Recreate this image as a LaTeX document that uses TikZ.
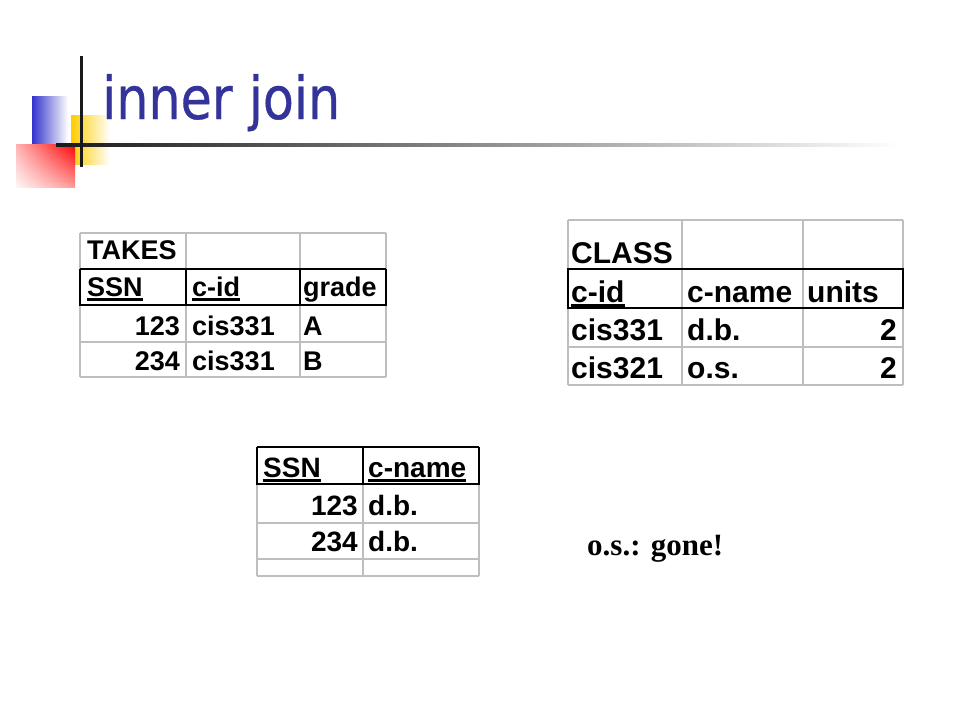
\documentclass[tikz,border=0pt]{standalone}
\usepackage{fontspec}
\setmainfont{Liberation Serif}
\setsansfont{Liberation Sans}
\newfontfamily\titlefont[FakeBold=0.6]{DejaVu Sans}
\usetikzlibrary{calc,shadings}
\definecolor{titleblue}{HTML}{333399}
\definecolor{logoblue}{HTML}{3333CC}
\definecolor{logoyellow}{HTML}{FFCC00}
\definecolor{gridgray}{HTML}{BEBEBE}
\tikzset{
  gridline/.style={draw=gridgray, line width=1.1pt},
  hdrline/.style={draw=black, line width=1.5pt},
  hdrthick/.style={draw=black, line width=2.6pt},
  ulline/.style={draw=black, line width=2.4pt},
  cellA/.style={inner sep=0pt, font=\sffamily\bfseries\fontsize{27}{30}\selectfont},
  cellB/.style={inner sep=0pt, font=\sffamily\bfseries\fontsize{30}{33}\selectfont},
  cellC/.style={inner sep=0pt, font=\sffamily\bfseries\fontsize{28}{31}\selectfont},
}
\begin{document}
\begin{tikzpicture}[x=1pt,y=-1pt]
\useasboundingbox (0,0) rectangle (960,720);
\fill[white] (0,0) rectangle (960,720);
% ---- logo ----
\shade[left color=logoyellow, right color=white] (71,115) rectangle (110,164);
\shade[left color=logoblue, right color=white] (32,96) rectangle (68,144);
\shade[upper right=red, upper left=red!30, lower right=red!40, lower left=red!4] (16,144) rectangle (75,187);
\shade[left color=black!90, right color=white] (56,143.5) rectangle (900,146.5);
\fill[black!90] (79.5,56) rectangle (82.5,167);
% ---- title ----
\node[anchor=base west, inner sep=0pt, text=titleblue, font=\titlefont\fontsize{59}{61}\selectfont] (title) at (102,119) {\scalebox{0.86}[1]{inner join}};
% ---- TAKES table ----
\foreach \yy in {233,342,377} \draw[gridline] (80,\yy) -- (386,\yy);
\foreach \xx in {80,186,300,386} \draw[gridline] (\xx,233) -- (\xx,377);
\draw[hdrline] (80,269) -- (386,269);
\draw[hdrline] (80,269) -- (80,305);
\draw[hdrline] (386,269) -- (386,305);
\draw[hdrline] (186,269) -- (186,305);
\draw[hdrline] (300,269) -- (300,305);
\draw[hdrthick] (79,305) -- (387,305);
\node[cellA, anchor=base west] (tname) at (87,259) {TAKES};
\node[cellA, anchor=base west] (tssn) at (87,296) {SSN};
\node[cellA, anchor=base west] (tcid) at (192,296) {c-id};
\node[cellA, anchor=base west] (tgrade) at (303,296) {grade};
\draw[ulline] ([yshift=-3.5pt]tssn.base west) -- ([yshift=-3.5pt]tssn.base east);
\draw[ulline] ([yshift=-3.5pt]tcid.base west) -- ([yshift=-3.5pt]tcid.base east);
\node[cellA, anchor=base east] (t1ssn) at (180,335) {123};
\node[cellA, anchor=base west] (t1cid) at (192,335) {cis331};
\node[cellA, anchor=base west] (t1gr) at (303,335) {A};
\node[cellA, anchor=base east] (t2ssn) at (180,370) {234};
\node[cellA, anchor=base west] (t2cid) at (192,370) {cis331};
\node[cellA, anchor=base west] (t2gr) at (303,370) {B};
% ---- CLASS table ----
\foreach \yy in {220,347,385} \draw[gridline] (568,\yy) -- (903,\yy);
\foreach \xx in {568,682,803,903} \draw[gridline] (\xx,220) -- (\xx,385);
\draw[hdrline] (568,269) rectangle (903,308);
\node[cellB, anchor=base west] (cname) at (571,263) {CLASS};
\node[cellB, anchor=base west] (ccid) at (571,302) {c-id};
\node[cellB, anchor=base west] (ccname) at (687,302) {c-name};
\node[cellB, anchor=base west] (cunits) at (807,302) {units};
\draw[ulline] ([yshift=-3.5pt]ccid.base west) -- ([yshift=-3.5pt]ccid.base east);
\node[cellB, anchor=base west] (c1id) at (571,340) {cis331};
\node[cellB, anchor=base west] (c1nm) at (687,340) {d.b.};
\node[cellB, anchor=base east] (c1un) at (897,340) {2};
\node[cellB, anchor=base west] (c2id) at (571,378) {cis321};
\node[cellB, anchor=base west] (c2nm) at (687,378) {o.s.};
\node[cellB, anchor=base east] (c2un) at (897,378) {2};
% ---- result table ----
\foreach \yy in {523,559,576} \draw[gridline] (257,\yy) -- (479,\yy);
\foreach \xx in {257,363,479} \draw[gridline] (\xx,447) -- (\xx,576);
\draw[hdrline] (257,447) -- (479,447);
\draw[hdrline] (257,447) -- (257,484);
\draw[hdrline] (363,447) -- (363,484);
\draw[hdrline] (479,447) -- (479,484);
\draw[hdrthick] (256,484) -- (480,484);
\node[cellC, anchor=base west] (rssn) at (263,477) {SSN};
\node[cellC, anchor=base west] (rcname) at (368,477) {c-name};
\draw[ulline] ([yshift=-3.5pt]rssn.base west) -- ([yshift=-3.5pt]rssn.base east);
\draw[ulline] ([yshift=-3.5pt]rcname.base west) -- ([yshift=-3.5pt]rcname.base east);
\node[cellC, anchor=base east] (r1ssn) at (358,515) {123};
\node[cellC, anchor=base west] (r1nm) at (368,515) {d.b.};
\node[cellC, anchor=base east] (r2ssn) at (358,551) {234};
\node[cellC, anchor=base west] (r2nm) at (368,551) {d.b.};
% ---- note ----
\node[anchor=base west, inner sep=0pt, font=\rmfamily\bfseries\fontsize{31}{34}\selectfont] (note) at (587,555) {o.s.: gone!};
\end{tikzpicture}
\end{document}
